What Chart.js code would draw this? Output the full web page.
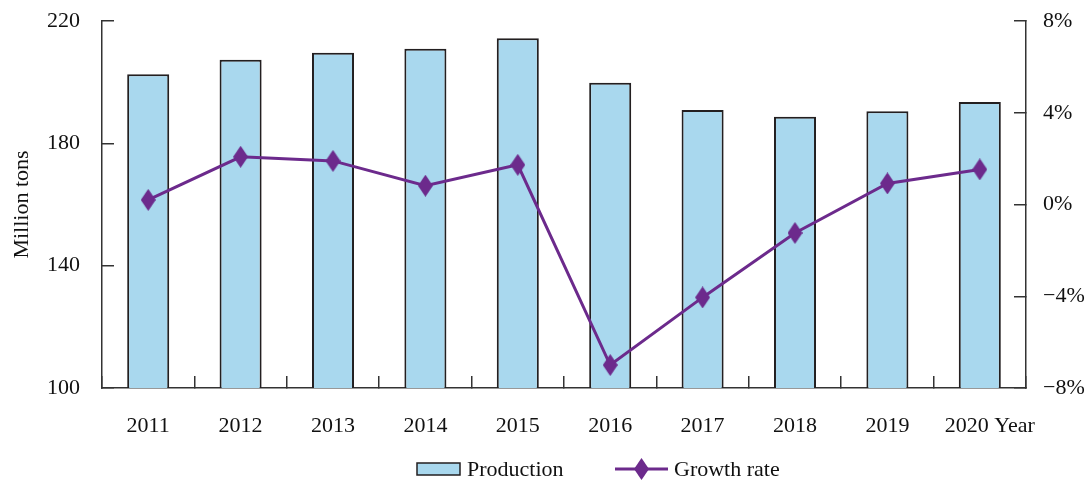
<!DOCTYPE html>
<html>
<head>
<meta charset="utf-8">
<script src="https://cdn.jsdelivr.net/npm/chart.js@4"></script>
<style>
  html, body { margin: 0; padding: 0; background: #fff; }
  #wrap { width: 1089px; height: 482px; }
</style>
</head>
<body>
<div id="wrap"><canvas id="prodChart" width="1089" height="482"></canvas></div>
<script>
// yearly figures
const years = ['2011', '2012', '2013', '2014', '2015', '2016', '2017', '2018', '2019', '2020'];
const production = [202.6, 207.3, 209.6, 210.9, 214.4, 199.8, 190.9, 188.7, 190.5, 193.5];
const growthRate = [0.2, 2.08, 1.9, 0.82, 1.73, -7.0, -4.05, -1.24, 0.92, 1.53];

// axis ticks
const leftTicks = [100, 140, 180, 220];
const rightTicks = [-8, -4, 0, 4, 8];
const xUnit = 'Year';

const barFill = '#a9d8ee';
const barEdge = '#231f20';
const lineColor = '#6c2a8c';
const axisColor = '#333333';
const fontFamily = '"Liberation Serif", "Times New Roman", serif';
const fontSize = 22;
const lastIdx = years.length - 1;

// tall diamond used for the markers
function makeDiamond(w, h, color) {
  const c = document.createElement('canvas');
  c.width = w; c.height = h;
  const g = c.getContext('2d');
  g.fillStyle = color;
  g.beginPath();
  g.moveTo(w / 2, 0);
  g.lineTo(w, h / 2);
  g.lineTo(w / 2, h);
  g.lineTo(0, h / 2);
  g.closePath();
  g.fill();
  return c;
}
const diamond = makeDiamond(15, 22, lineColor);

// legend drawn under the x axis
const bottomLegend = {
  id: 'bottomLegend',
  afterDraw(chart) {
    const ctx = chart.ctx;
    const y = 469;
    ctx.save();
    ctx.font = fontSize + 'px ' + fontFamily;
    ctx.textBaseline = 'middle';
    ctx.textAlign = 'left';

    // bars
    ctx.fillStyle = barFill;
    ctx.fillRect(417, y - 6, 43, 12);
    ctx.strokeStyle = barEdge;
    ctx.lineWidth = 1.5;
    ctx.strokeRect(417, y - 6, 43, 12);
    ctx.fillStyle = '#111';
    ctx.fillText(chart.data.datasets[1].label, 467, y + 1);

    // line
    ctx.strokeStyle = lineColor;
    ctx.lineWidth = 3;
    ctx.beginPath();
    ctx.moveTo(615, y);
    ctx.lineTo(668, y);
    ctx.stroke();
    ctx.drawImage(diamond, 641.5 - diamond.width / 2, y - diamond.height / 2);
    ctx.fillText(chart.data.datasets[0].label, 674, y + 1);
    ctx.restore();
  }
};

// last category label carries the unit, set a little to the right
const yearSuffix = {
  id: 'yearSuffix',
  afterDraw(chart) {
    const xs = chart.scales.x;
    const ctx = chart.ctx;
    const item = xs.getLabelItems()[lastIdx];
    ctx.save();
    ctx.font = fontSize + 'px ' + fontFamily;
    const w = ctx.measureText(years[lastIdx]).width;
    ctx.fillStyle = '#111';
    ctx.textAlign = 'left';
    ctx.textBaseline = item.options.textBaseline;
    ctx.fillText(years[lastIdx] + ' ' + xUnit,
      xs.getPixelForValue(lastIdx) - w / 2 - 13,
      item.options.translation[1] + (item.textOffset || 0));
    ctx.restore();
  }
};

// keep the large tick padding from pushing the plot area down
function trimPadding(scale, width) {
  scale.width = width;
  scale.paddingTop = 10;
  scale.paddingBottom = 10;
}

const ctx = document.getElementById('prodChart').getContext('2d');

new Chart(ctx, {
  data: {
    labels: years,
    datasets: [
      {
        type: 'line',
        label: 'Growth rate',
        data: growthRate,
        yAxisID: 'y1',
        borderColor: lineColor,
        backgroundColor: lineColor,
        borderWidth: 3,
        tension: 0,
        pointStyle: diamond,
        order: 0
      },
      {
        type: 'bar',
        label: 'Production',
        data: production,
        yAxisID: 'y',
        backgroundColor: barFill,
        borderColor: barEdge,
        borderWidth: 2,
        barPercentage: 0.455,
        categoryPercentage: 1,
        order: 1
      }
    ]
  },
  options: {
    responsive: false,
    animation: false,
    layout: { padding: { top: 21, right: 0, bottom: 44, left: 0 } },
    plugins: {
      legend: { display: false },
      tooltip: { enabled: false }
    },
    scales: {
      x: {
        offset: true,
        border: { color: axisColor, width: 1.5 },
        grid: { drawOnChartArea: false, offset: true, tickLength: -12, color: axisColor, lineWidth: 1.5 },
        ticks: {
          padding: 37,
          color: '#111',
          font: { family: fontFamily, size: fontSize },
          maxRotation: 0,
          callback: (v, i) => (i === lastIdx ? '' : years[i])
        },
        afterFit(scale) { scale.height = 50; }
      },
      y: {
        position: 'left',
        min: 100,
        max: 220,
        border: { color: axisColor, width: 1.5 },
        grid: { drawOnChartArea: false, tickLength: -12, color: axisColor, lineWidth: 1.5 },
        afterBuildTicks(scale) { scale.ticks = leftTicks.map(v => ({ value: v })); },
        ticks: { padding: 34, color: '#111', font: { family: fontFamily, size: fontSize } },
        title: { display: true, text: 'Million tons', color: '#111', font: { family: fontFamily, size: fontSize }, padding: { top: 9, bottom: 0 } },
        afterFit(scale) { trimPadding(scale, 102); }
      },
      y1: {
        position: 'right',
        min: -8,
        max: 8,
        border: { color: axisColor, width: 1.5 },
        grid: { drawOnChartArea: false, tickLength: -12, color: axisColor, lineWidth: 1.5 },
        afterBuildTicks(scale) { scale.ticks = rightTicks.map(v => ({ value: v })); },
        ticks: {
          padding: 29,
          color: '#111',
          font: { family: fontFamily, size: fontSize },
          callback: v => (v < 0 ? '\u2212' + Math.abs(v) : v) + '%'
        },
        afterFit(scale) { trimPadding(scale, 63); }
      }
    }
  },
  plugins: [bottomLegend, yearSuffix]
});
</script>
</body>
</html>
